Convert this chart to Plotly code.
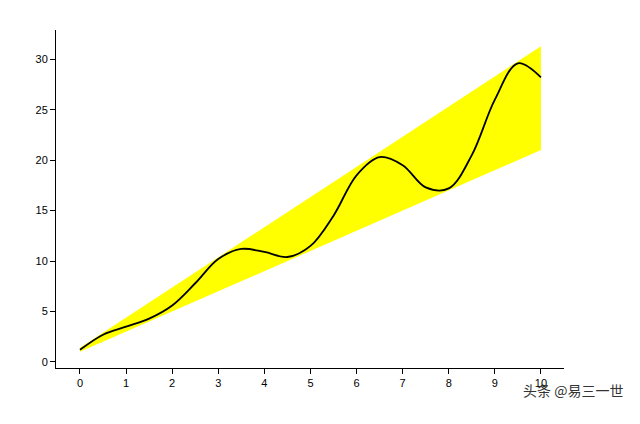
import plotly.graph_objects as go

x_curve = [0, 0.5, 1, 1.5, 2, 2.5, 3, 3.5, 4, 4.5, 5, 5.5, 6, 6.5, 7, 7.5, 8, 8.5, 9, 9.5, 10]
y_curve = [1.2, 2.7, 3.5, 4.3, 5.6, 7.8, 10.2, 11.2, 10.9, 10.4, 11.5, 14.5, 18.5, 20.3, 19.5, 17.3, 17.2, 20.5, 26.0, 29.6, 28.2]
x_band = [0, 10]
band_low = [1.0, 21.0]
band_high = [1.4, 31.3]

fig = go.Figure()
fig.add_trace(go.Scatter(x=x_band, y=band_low, mode='lines', line=dict(width=0), showlegend=False))
fig.add_trace(go.Scatter(x=x_band, y=band_high, mode='lines', line=dict(width=0),
                         fill='tonexty', fillcolor='#ffff00', showlegend=False))
fig.add_trace(go.Scatter(x=x_curve, y=y_curve, mode='lines', line=dict(color='black', width=1.8, shape='spline'),
                         showlegend=False))

axis_style = dict(showgrid=False, zeroline=False, showline=True, linecolor='black', linewidth=1,
                  ticks='outside', ticklen=5, tickcolor='black', tickfont=dict(size=11, color='black'),
                  automargin=False)
fig.update_xaxes(range=[-0.52, 10.5], tickvals=list(range(11)), **axis_style)
fig.update_yaxes(range=[-0.6, 32.9], tickvals=[0, 5, 10, 15, 20, 25, 30], **axis_style)

fig.add_annotation(text='头条 @易三一世', xref='paper', yref='paper', x=1.12, y=-0.1,
                   showarrow=False, xanchor='right', font=dict(size=14, color='#333333',
                   family='Noto Sans CJK SC'))

fig.update_layout(width=640, height=424, margin=dict(l=48, r=84, t=22, b=64),
                  plot_bgcolor='white', paper_bgcolor='white',
                  font=dict(family='Liberation Sans'))
fig.write_html("out.html")
